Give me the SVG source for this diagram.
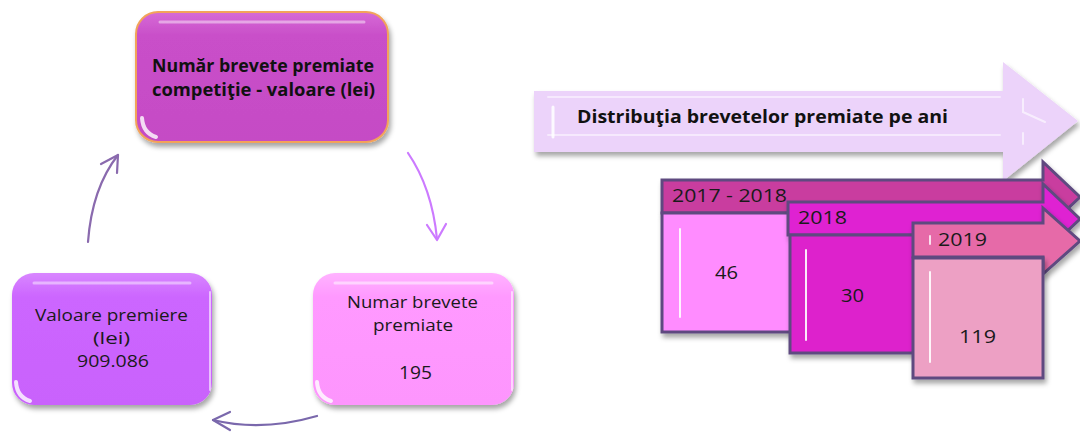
<svg xmlns="http://www.w3.org/2000/svg" width="1080" height="432" viewBox="0 0 1080 432">
<style>
.t{font-family:"Open Sans","Liberation Sans",Arial,sans-serif;fill:#1a1a1a}
.b{font-weight:bold;fill:#111}
.yr{stroke:#5e4a80;stroke-width:3;stroke-linejoin:miter}
.hl{fill:none;stroke:#fff;stroke-linecap:round}
.con{fill:none;stroke-width:2.2;stroke-linecap:round;stroke-linejoin:round}
</style>
<defs>
<filter id="sh" x="-10%" y="-10%" width="130%" height="140%">
<feDropShadow dx="2" dy="4" stdDeviation="2.5" flood-color="#000" flood-opacity="0.35"/>
</filter>
<linearGradient id="gTop" x1="0" y1="0" x2="0" y2="1">
<stop offset="0" stop-color="#d66ad6"/><stop offset="0.18" stop-color="#c94fc9"/><stop offset="1" stop-color="#c54bc5"/>
</linearGradient>
<linearGradient id="gL" x1="0" y1="0" x2="0" y2="1">
<stop offset="0" stop-color="#d886ff"/><stop offset="0.18" stop-color="#cc66ff"/><stop offset="1" stop-color="#c962fc"/>
</linearGradient>
<linearGradient id="gR" x1="0" y1="0" x2="0" y2="1">
<stop offset="0" stop-color="#ffb3ff"/><stop offset="0.18" stop-color="#ff99ff"/><stop offset="1" stop-color="#fd95fd"/>
</linearGradient>
</defs>

<g id="connectors">
<path class="con" stroke="#cc7aff" d="M408,153 Q432,188 437,239"/>
<path class="con" stroke="#cc7aff" d="M427,225 L437,240 L446,224"/>
<path class="con" stroke="#8a6aae" d="M88,242 Q92,188 118,155"/>
<path class="con" stroke="#8a6aae" d="M101,164 L118,155 L117,173"/>
<path class="con" stroke="#7a68ac" d="M317,416 Q262,432 213,420"/>
<path class="con" stroke="#7a68ac" d="M230,412 L213,420 L230,430"/>
</g>

<g id="node-top">
<rect x="136" y="12" width="252" height="130" rx="22" fill="url(#gTop)" stroke="#f2a35a" stroke-width="2" filter="url(#sh)"/>
<path class="hl" stroke-width="3" stroke-opacity="0.45" d="M160,22 H364"/>
<path class="hl" stroke-width="4" stroke-opacity="0.8" d="M142,118 Q143,133 156,137"/>
<text class="t b" x="152" y="72" font-size="17.5" textLength="222" lengthAdjust="spacingAndGlyphs">Număr brevete premiate</text>
<text class="t b" x="152" y="96" font-size="17.5" textLength="223" lengthAdjust="spacingAndGlyphs">competiţie - valoare (lei)</text>
</g>

<g id="node-left">
<rect x="12" y="273" width="200" height="132" rx="22" fill="url(#gL)" filter="url(#sh)"/>
<path class="hl" stroke-width="3" stroke-opacity="0.45" d="M34,283 H190"/>
<path class="hl" stroke-width="2" stroke-opacity="0.6" d="M210,292 V390"/>
<path class="hl" stroke-width="4" stroke-opacity="0.8" d="M16,382 Q17,397 30,401"/>
<text class="t" x="35" y="321" font-size="16.5" textLength="153" lengthAdjust="spacingAndGlyphs">Valoare premiere</text>
<text class="t" x="93" y="344" font-size="16.5" textLength="37" lengthAdjust="spacingAndGlyphs">(lei)</text>
<text class="t" x="77" y="367" font-size="16.5" textLength="72" lengthAdjust="spacingAndGlyphs">909.086</text>
</g>

<g id="node-right">
<rect x="313" y="273" width="201" height="132" rx="22" fill="url(#gR)" filter="url(#sh)"/>
<path class="hl" stroke-width="3" stroke-opacity="0.5" d="M335,283 H492"/>
<path class="hl" stroke-width="2" stroke-opacity="0.6" d="M512,292 V390"/>
<path class="hl" stroke-width="4" stroke-opacity="0.8" d="M317,382 Q318,397 331,401"/>
<text class="t" x="347" y="308" font-size="17" textLength="131" lengthAdjust="spacingAndGlyphs">Numar brevete</text>
<text class="t" x="373" y="331" font-size="17" textLength="80" lengthAdjust="spacingAndGlyphs">premiate</text>
<text class="t" x="399" y="379" font-size="18" textLength="33" lengthAdjust="spacingAndGlyphs">195</text>
</g>

<g id="arrow-title">
<polygon points="534,91 1003,91 1003,62 1078,121 1003,181 1003,152 534,152" fill="#ecd3fa" filter="url(#sh)"/>
<path class="hl" stroke-width="3" stroke-opacity="0.85" d="M553,107 V137"/>
<path class="hl" stroke-width="2" stroke-opacity="0.5" d="M548,97 H1000 M548,135 H1000"/>
<path class="hl" stroke-width="2" stroke-opacity="0.6" d="M1023,99 V112 L1045,122 M1023,133 V144"/>
<text class="t b" x="577" y="123" font-size="17.5" textLength="371" lengthAdjust="spacingAndGlyphs">Distribuţia brevetelor premiate pe ani</text>
</g>

<g id="year-2017">
<polygon class="yr" points="662,180 1043,180 1043,162 1080,197 1043,232 1043,213 662,213" fill="#c93d9f" filter="url(#sh)"/>
<rect class="yr" x="662" y="213" width="140" height="119" fill="#ff8cff" filter="url(#sh)"/>
<path class="hl" stroke-width="2" stroke-opacity="0.9" d="M680,229 V317"/>
<text class="t" x="672" y="202" font-size="19" textLength="115" lengthAdjust="spacingAndGlyphs">2017 - 2018</text>
<text class="t" x="715" y="279" font-size="18.5" textLength="23" lengthAdjust="spacingAndGlyphs">46</text>
</g>

<g id="year-2018">
<polygon class="yr" points="788,202 1043,202 1043,184 1080,219 1043,254 1043,235 788,235" fill="#df22d2" filter="url(#sh)"/>
<rect class="yr" x="790" y="235" width="135" height="118" fill="#dd22cc" filter="url(#sh)"/>
<path class="hl" stroke-width="2" stroke-opacity="0.9" d="M806,250 V340"/>
<text class="t" x="798" y="224" font-size="19" textLength="49" lengthAdjust="spacingAndGlyphs">2018</text>
<text class="t" x="841" y="302" font-size="18.5" textLength="23" lengthAdjust="spacingAndGlyphs">30</text>
</g>

<g id="year-2019">
<polygon class="yr" points="913,223 1043,223 1043,208 1080,241 1043,274 1043,257 913,257" fill="#e66aa8" filter="url(#sh)"/>
<rect class="yr" x="913" y="258" width="130" height="120" fill="#eda0c4" filter="url(#sh)"/>
<path class="hl" stroke-width="2" stroke-opacity="0.9" d="M930,272 V362"/>
<path class="hl" stroke-width="2" stroke-opacity="0.8" d="M930,236 V244"/>
<text class="t" x="938" y="246" font-size="19" textLength="49" lengthAdjust="spacingAndGlyphs">2019</text>
<text class="t" x="959" y="343" font-size="18.5" textLength="37" lengthAdjust="spacingAndGlyphs">119</text>
</g>
</svg>
